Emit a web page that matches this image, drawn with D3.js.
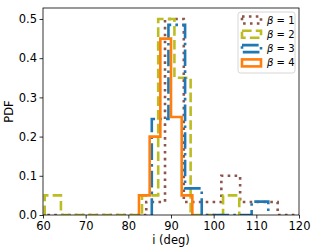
<!DOCTYPE html>
<html>
<head>
<meta charset="utf-8">
<script src="https://cdn.jsdelivr.net/npm/d3@7"></script>
<style>
  body { margin: 0; background: #fff; }
  svg { display: block; font-family: "DejaVu Sans", sans-serif; }
</style>
</head>
<body>
<svg id="chart" width="316" height="252"></svg>
<script>
// values
var betas = ["1", "2", "3", "4"];
var xTicks = [60, 70, 80, 90, 100, 110, 120];
var yTicks = [0.0, 0.1, 0.2, 0.3, 0.4, 0.5];

var edges1 = [57.8, 62.2, 66.6, 71.0, 75.4, 79.8, 84.2, 88.6, 93.0, 97.4, 101.8, 106.2, 110.6, 115.0, 119.4, 123.8];
var pdf1 = [0, 0, 0, 0, 0, 0, 0.033, 0.5, 0.033, 0.033, 0.1, 0.033, 0.033, 0, 0];

var edges2 = [60.4, 64.2, 68.0, 71.8, 75.6, 79.4, 83.2, 87.0, 90.8, 94.6, 98.4, 102.2, 106.0];
var pdf2 = [0.05, 0, 0, 0, 0, 0, 0.05, 0.5, 0.35, 0, 0, 0.05];

var edges3 = [85.5, 89.4, 93.3, 97.2, 101.1, 105.0, 108.9, 112.8];
var pdf3 = [0.245, 0.485, 0.068, 0, 0, 0, 0.034];

var edges4 = [82.5, 85, 87.5, 90, 92.5, 95];
var pdf4 = [0.05, 0.2, 0.45, 0.25, 0.05];

function main() {
    var svg = d3.select("#chart"),
        left = 43, top = 8, right = 299, bottom = 215,
        lw = 2.6;

    var x = d3.scaleLinear().domain([60, 120]).range([left, right]),
        y = d3.scaleLinear().domain([0, 0.528]).range([bottom, top]);

    var series = [
        {edges: edges1, pdf: pdf1, color: "#8c564b", dash: [1 * lw, 1.65 * lw]},
        {edges: edges2, pdf: pdf2, color: "#bcbd22", dash: [3.7 * lw, 1.6 * lw]},
        {edges: edges3, pdf: pdf3, color: "#1f77b4", dash: [6.4 * lw, 1.6 * lw, 1 * lw, 1.6 * lw]},
        {edges: edges4, pdf: pdf4, color: "#ff7f0e", dash: null}
    ];

    svg.append("clipPath").attr("id", "clip")
        .append("rect")
        .attr("x", left).attr("y", top)
        .attr("width", right - left).attr("height", bottom - top);

    var line = d3.line()
        .x(function(d) { return x(d[0]); })
        .y(function(d) { return y(d[1]); });

    // step outline like matplotlib histtype='step'
    function stepPoints(s) {
        var pts = [[s.edges[0], 0]];
        s.pdf.forEach(function(h, i) {
            pts.push([s.edges[i], h]);
            pts.push([s.edges[i + 1], h]);
        });
        pts.push([s.edges[s.edges.length - 1], 0]);
        return pts;
    }

    var plot = svg.append("g").attr("clip-path", "url(#clip)");
    series.forEach(function(s) {
        plot.append("path")
            .attr("d", line(stepPoints(s)))
            .attr("fill", "none")
            .attr("stroke", s.color)
            .attr("stroke-width", lw)
            .attr("stroke-linejoin", "miter")
            .attr("stroke-dasharray", s.dash ? s.dash.join(",") : null);
    });

    var xAxis = svg.append("g")
        .attr("transform", "translate(0," + bottom + ")")
        .call(d3.axisBottom(x).tickValues(xTicks).tickSize(3.5).tickPadding(3).tickFormat(d3.format("d")));
    var yAxis = svg.append("g")
        .attr("transform", "translate(" + left + ",0)")
        .call(d3.axisLeft(y).tickValues(yTicks).tickSize(3.5).tickPadding(2.5).tickFormat(d3.format(".1f")));

    [xAxis, yAxis].forEach(function(a) {
        a.select(".domain").remove();
        a.selectAll("line").attr("stroke", "#000").attr("stroke-width", 0.8);
        a.selectAll("text").attr("fill", "#000").style("font-size", "11.5px")
            .style("font-family", "'DejaVu Sans', sans-serif");
    });

    svg.append("rect")
        .attr("x", left).attr("y", top)
        .attr("width", right - left).attr("height", bottom - top)
        .attr("fill", "none").attr("stroke", "#000").attr("stroke-width", 0.8);

    svg.append("text")
        .attr("x", (left + right) / 2).attr("y", 244)
        .attr("text-anchor", "middle")
        .style("font-size", "11.5px")
        .text("i (deg)");

    svg.append("text")
        .attr("transform", "translate(13," + ((top + bottom) / 2) + ") rotate(-90)")
        .attr("text-anchor", "middle")
        .style("font-size", "11.5px")
        .text("PDF");

    // legend
    var lg = svg.append("g").attr("transform", "translate(238,12)");
    lg.append("rect")
        .attr("width", 57).attr("height", 61)
        .attr("rx", 2.5)
        .attr("fill", "#fff").attr("fill-opacity", 0.8)
        .attr("stroke", "#ccc").attr("stroke-width", 0.8);

    series.forEach(function(s, i) {
        var row = lg.append("g").attr("transform", "translate(4," + (8 + i * 14.3) + ")");
        row.append("rect")
            .attr("x", 0).attr("y", -3.5)
            .attr("width", 19).attr("height", 7)
            .attr("fill", "none")
            .attr("stroke", s.color)
            .attr("stroke-width", lw)
            .attr("stroke-dasharray", s.dash ? s.dash.join(",") : null);
        var t = row.append("text")
            .attr("x", 25).attr("y", 3.5)
            .style("font-size", "10px");
        t.append("tspan").style("font-style", "italic").text("\u03b2");
        t.append("tspan").text(" = " + betas[i]);
    });
}

main();
</script>
</body>
</html>
